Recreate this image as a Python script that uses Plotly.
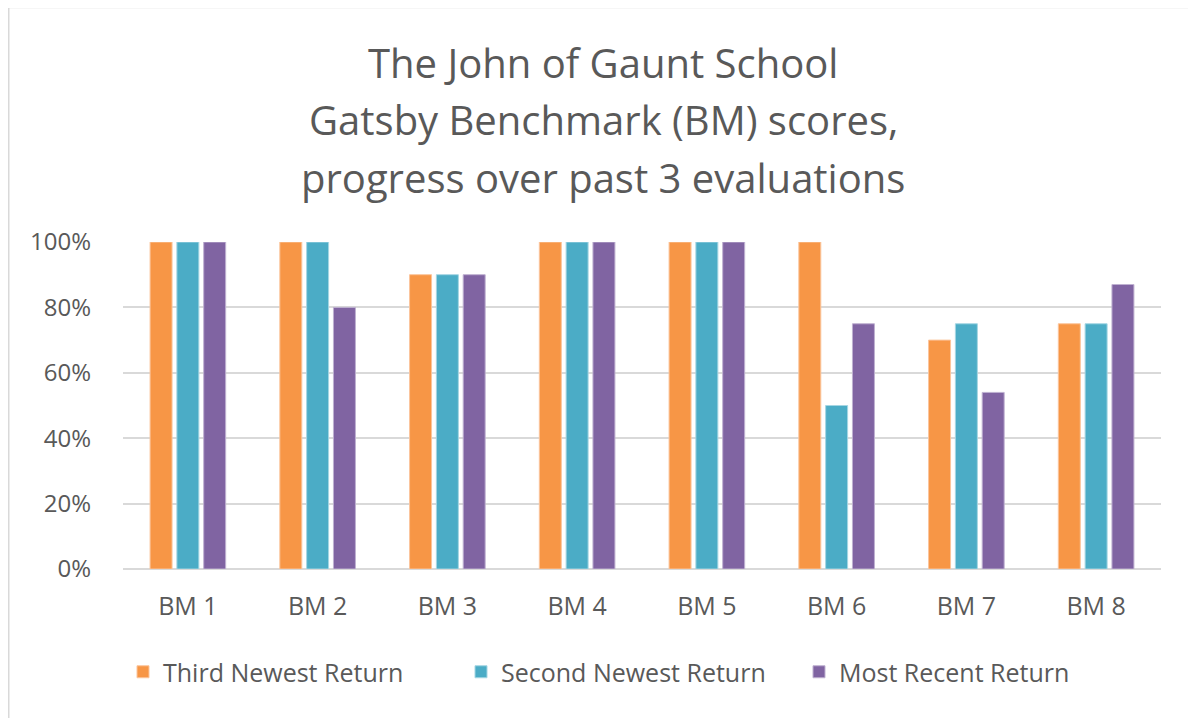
import plotly.graph_objects as go

categories = ["BM 1", "BM 2", "BM 3", "BM 4", "BM 5", "BM 6", "BM 7", "BM 8"]
third_newest = [1.00, 1.00, 0.90, 1.00, 1.00, 1.00, 0.70, 0.75]
second_newest = [1.00, 1.00, 0.90, 1.00, 1.00, 0.50, 0.75, 0.75]
most_recent = [1.00, 0.80, 0.90, 1.00, 1.00, 0.75, 0.54, 0.87]
series_names = ["Third Newest Return", "Second Newest Return", "Most Recent Return"]
title_lines = ["The John of Gaunt School", "Gatsby Benchmark (BM) scores,", "progress over past 3 evaluations"]
colors = ["#F79646", "#4BACC6", "#8064A2"]
edge_colors = ["#FBC59C", "#A5D6E3", "#BFB1D1"]

FONT = "Open Sans"
TXT = "#595959"

fig = go.Figure()
for name, vals, c, ec in zip(series_names, [third_newest, second_newest, most_recent], colors, edge_colors):
    fig.add_trace(go.Bar(x=categories, y=vals, name=name,
                         marker=dict(color=c, line=dict(color=ec, width=1))))

# page body has an 8px margin, so figure pixel = screen pixel - 8
OFF = 8
W, H = 1196 - OFF, 718 - OFF
L, R, T, B = 123 - OFF, W - (1161 - OFF), 242 - OFF, H - (569 - OFF)
pw, ph = W - L - R, H - T - B

def px2x(px):
    return (px - OFF - L) / pw

def py2y(py):
    return (H - B - (py - OFF)) / ph

annotations = []
for line, cy in zip(title_lines, [62, 120, 177]):
    annotations.append(dict(text=line, xref="paper", yref="paper", x=px2x(603), y=py2y(cy),
                            xanchor="center", yanchor="middle", showarrow=False,
                            font=dict(family=FONT, size=40, color=TXT)))

fig.update_layout(
    width=W, height=H,
    margin=dict(l=L, r=R, t=T, b=B),
    paper_bgcolor="white", plot_bgcolor="white",
    font=dict(family=FONT, color=TXT, size=24),
    barmode="group", bargap=0.38, bargroupgap=0.18,
    xaxis=dict(showgrid=False, showline=False, ticks="", ticklabelstandoff=20,
               tickfont=dict(size=25, color=TXT)),
    yaxis=dict(range=[0, 1.0], dtick=0.2, tickformat=".0%", showgrid=True, gridcolor="#D9D9D9",
               gridwidth=1.5, zeroline=True, zerolinecolor="#D9D9D9", zerolinewidth=1.5,
               showline=False, ticks="", ticklabelstandoff=31, tickfont=dict(size=24, color=TXT)),
    legend=dict(orientation="h", x=px2x(123), xanchor="left", y=py2y(672), yanchor="middle",
                entrywidth=293, entrywidthmode="pixels",
                font=dict(size=25, color=TXT), traceorder="normal"),
    annotations=annotations,
    shapes=[dict(type="rect", xref="paper", yref="paper",
                 x0=px2x(OFF + 0.75), x1=px2x(1300), y0=py2y(900), y1=py2y(OFF - 0.5),
                 line=dict(color="#D9D9D9", width=1.5), fillcolor="rgba(0,0,0,0)", layer="below")],
)
fig.update_yaxes(automargin=False)
fig.update_xaxes(automargin=False)

fig.write_html("out.html")
